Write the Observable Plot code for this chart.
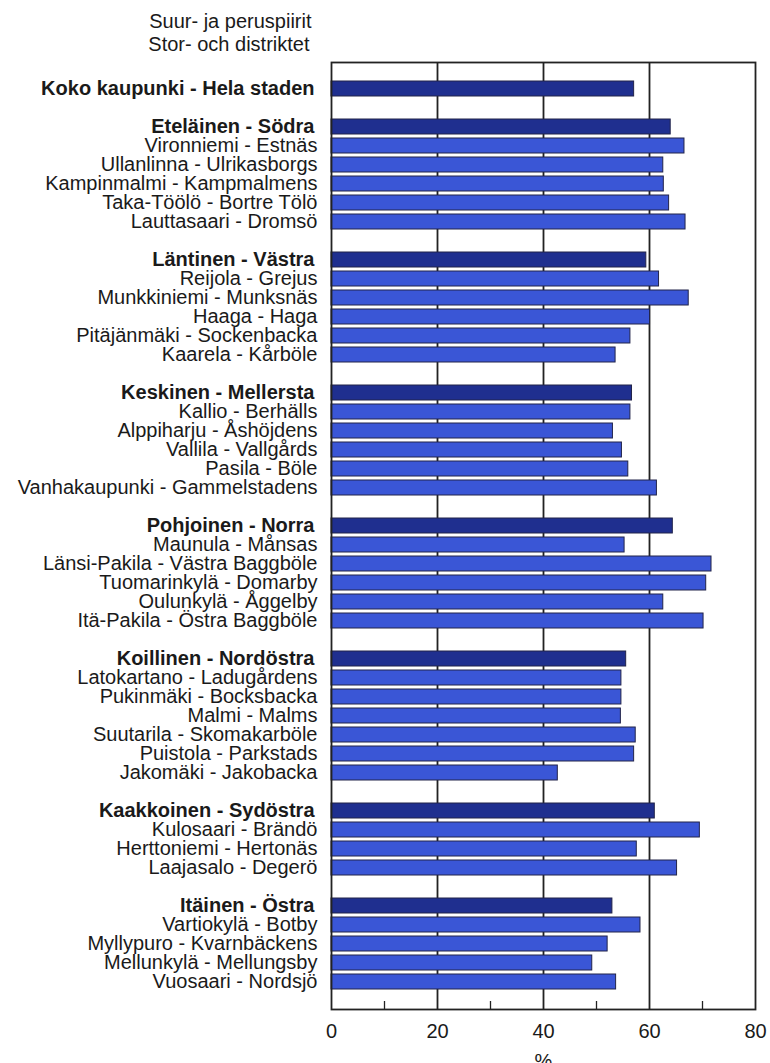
<!DOCTYPE html>
<html><head><meta charset="utf-8">
<script src="https://cdn.jsdelivr.net/npm/d3@7"></script>
<script src="https://cdn.jsdelivr.net/npm/@observablehq/plot@0.6"></script>
<style>body{margin:0;background:#fff} svg{display:block}</style>
</head><body><div id="chart"></div>
<script>
const labels = [
  "Koko kaupunki - Hela staden",
  "Eteläinen - Södra",
  "Vironniemi - Estnäs",
  "Ullanlinna - Ulrikasborgs",
  "Kampinmalmi - Kampmalmens",
  "Taka-Töölö - Bortre Tölö",
  "Lauttasaari - Dromsö",
  "Läntinen - Västra",
  "Reijola - Grejus",
  "Munkkiniemi - Munksnäs",
  "Haaga - Haga",
  "Pitäjänmäki - Sockenbacka",
  "Kaarela - Kårböle",
  "Keskinen - Mellersta",
  "Kallio - Berhälls",
  "Alppiharju - Åshöjdens",
  "Vallila - Vallgårds",
  "Pasila - Böle",
  "Vanhakaupunki - Gammelstadens",
  "Pohjoinen - Norra",
  "Maunula - Månsas",
  "Länsi-Pakila - Västra Baggböle",
  "Tuomarinkylä - Domarby",
  "Oulunkylä - Åggelby",
  "Itä-Pakila - Östra Baggböle",
  "Koillinen - Nordöstra",
  "Latokartano - Ladugårdens",
  "Pukinmäki - Bocksbacka",
  "Malmi - Malms",
  "Suutarila - Skomakarböle",
  "Puistola - Parkstads",
  "Jakomäki - Jakobacka",
  "Kaakkoinen - Sydöstra",
  "Kulosaari - Brändö",
  "Herttoniemi - Hertonäs",
  "Laajasalo - Degerö",
  "Itäinen - Östra",
  "Vartiokylä - Botby",
  "Myllypuro - Kvarnbäckens",
  "Mellunkylä - Mellungsby",
  "Vuosaari - Nordsjö"
];
const values = [
  57.1,
  64.0, 66.6, 62.6, 62.7, 63.7, 66.8,
  59.4, 61.8, 67.4, 60.1, 56.4, 53.6,
  56.7, 56.4, 53.1, 54.8, 56.0, 61.4,
  64.4, 55.3, 71.7, 70.7, 62.6, 70.2,
  55.6, 54.7, 54.7, 54.6, 57.4, 57.1, 42.7,
  61.0, 69.5, 57.6, 65.2,
  53.0, 58.3, 52.1, 49.2, 53.7
];
const levels = [
  "head",
  "head","sub","sub","sub","sub","sub",
  "head","sub","sub","sub","sub","sub",
  "head","sub","sub","sub","sub","sub",
  "head","sub","sub","sub","sub","sub",
  "head","sub","sub","sub","sub","sub","sub",
  "head","sub","sub","sub",
  "head","sub","sub","sub","sub"
];
const xTicks = [0, 20, 40, 60, 80];
const minorTicks = [10, 30, 50, 70];
const gridLines = [20, 40, 60];
const headerLines = ["Suur- ja peruspiirit", "Stor- och distriktet"];
const axisTitle = "%";

const rows = labels.map((label, i) => ({label, value: values[i], level: levels[i]}));
const domain = [];
rows.forEach((r, i) => { if (i > 0 && r.level === "head") domain.push("gap" + i); domain.push(r.label); });
const heads = rows.filter(d => d.level === "head");
const subs = rows.filter(d => d.level === "sub");

const font = "'Liberation Sans', Arial, Helvetica, sans-serif";
const ink = "#1a1a1a";
const chart = Plot.plot({
  width: 770, height: 1063,
  marginLeft: 331, marginRight: 15, marginTop: 62, marginBottom: 54,
  style: {fontFamily: font, background: "#fff", color: ink, overflow: "visible"},
  x: {domain: [0, 80], axis: null},
  y: {domain, axis: null, paddingInner: 0.2, paddingOuter: 0.89},
  marks: [
    Plot.ruleX(gridLines, {stroke: "#222", strokeWidth: 1.8}),
    Plot.ruleX(minorTicks, {stroke: "#222", strokeWidth: 1.3, insetTop: 939}),
    Plot.barX(heads, {x: "value", y: "label", fill: "#1f2f8f", stroke: "#22244a", strokeWidth: 1}),
    Plot.barX(subs, {x: "value", y: "label", fill: "#3a56d6", stroke: "#22244a", strokeWidth: 1}),
    Plot.frame({stroke: "#222", strokeWidth: 1.8}),
    Plot.text(heads, {x: 0, y: "label", text: "label", textAnchor: "end", dx: -17, fontSize: 20, fontWeight: "bold", fill: ink}),
    Plot.text(subs, {x: 0, y: "label", text: "label", textAnchor: "end", dx: -14, fontSize: 20, fill: ink}),
    Plot.axisX(xTicks, {tickSize: 0, tickPadding: 14, fontSize: 20, fill: ink, label: null}),
    Plot.text([axisTitle], {x: [40], text: Plot.identity, frameAnchor: "bottom", lineAnchor: "bottom", dy: 58, fontSize: 20, fill: ink}),
    Plot.text([headerLines[0]], {x: [0], text: Plot.identity, frameAnchor: "top", textAnchor: "end", lineAnchor: "bottom", dx: -20, dy: -35, fontSize: 20, fill: ink}),
    Plot.text([headerLines[1]], {x: [0], text: Plot.identity, frameAnchor: "top", textAnchor: "end", lineAnchor: "bottom", dx: -22, dy: -12, fontSize: 20, fill: ink})
  ]
});
document.getElementById("chart").appendChild(chart);
</script>
</body></html>
